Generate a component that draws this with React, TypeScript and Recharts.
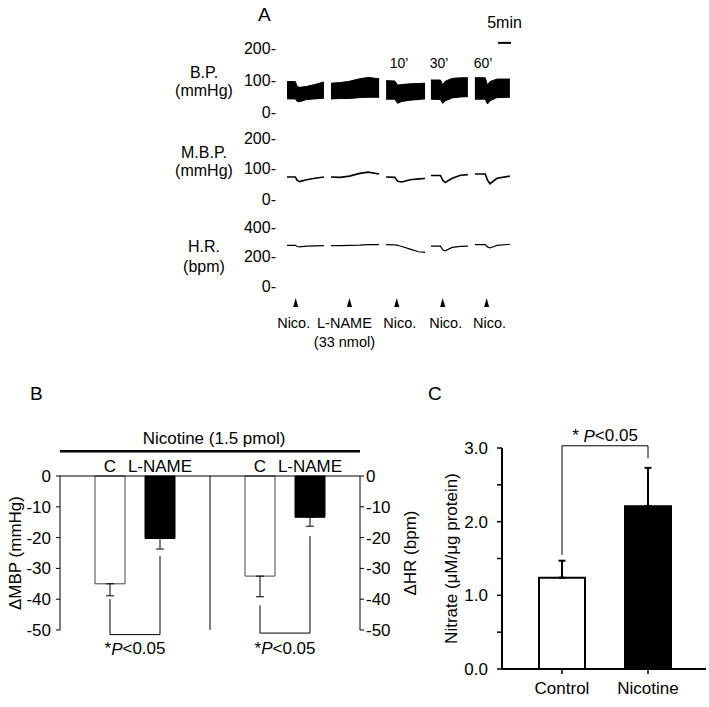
import {
  ComposedChart,
  Area,
  Line,
  XAxis,
  YAxis,
  ReferenceLine,
  ReferenceDot,
  BarChart,
  Bar,
  Cell,
  ErrorBar,
} from 'recharts'

const FONT = '"Liberation Sans", Arial, Helvetica, sans-serif'
const FS_A = 16 // panel A text
const FS = 17 // panels B and C

// ---------- Panel A: recordings (t = minutes from start of trace) ----------
const segTimes = [
  [0, 3, 3.6, 4.5, 7, 10, 13.2],
  [15.7, 19, 22.3, 26, 29, 32.9],
  [35.4, 38.5, 39.5, 41, 44, 47, 49.3],
  [51.4, 54.8, 55.6, 56.5, 59, 62, 64.6],
  [67.1, 70.8, 71.6, 72.5, 75, 79.6],
]
const bpHigh = [
  [95, 95, 80, 77, 80, 86, 94],
  [90, 92, 96, 104, 108, 104],
  [98, 97, 84, 86, 88, 89, 90],
  [100, 100, 85, 96, 105, 107, 107],
  [107, 107, 84, 95, 103, 103],
]
const bpLow = [
  [41, 41, 33, 32, 39, 41, 43],
  [41, 42, 42, 45, 46, 46],
  [40, 40, 27, 33, 37, 39, 41],
  [40, 39, 27, 35, 44, 47, 48],
  [40, 40, 25, 35, 45, 46],
]
const mbpTrace = [
  [72, 72, 62, 57, 63, 68, 72],
  [72, 71, 75, 84, 88, 82],
  [72, 71, 58, 56, 63, 66, 67],
  [77, 77, 62, 54, 68, 78, 80],
  [82, 82, 62, 50, 68, 75],
]
const hrTrace = [
  [276, 276, 268, 265, 270, 272, 274],
  [274, 274, 275, 277, 280, 281],
  [281, 279, 276, 268, 250, 232, 228],
  [270, 270, 245, 238, 262, 268, 270],
  [281, 281, 265, 258, 275, 283],
]

const injectionTimes = [3.1, 22.3, 39.2, 55.6, 71.3]
const injectionLabels = ['Nico.', 'L-NAME', 'Nico.', 'Nico.', 'Nico.']
const injectionNotes = ['', '(33 nmol)', '', '', '']

const minuteMarks = [
  { t: 40, text: '10\u2019' },
  { t: 54.3, text: '30\u2019' },
  { t: 70, text: '60\u2019' },
]

// one row per reading, with an empty row between the separate records
const traceRows = segTimes.flatMap((times, s) => {
  const rows: any[] = times.map((t, i) => ({
    t,
    bp: [bpLow[s][i], bpHigh[s][i]],
    mbp: mbpTrace[s][i],
    hr: hrTrace[s][i],
  }))
  const next = segTimes[s + 1]
  if (next) rows.push({ t: (times[times.length - 1] + next[0]) / 2, bp: null, mbp: null, hr: null })
  return rows
})

// ---------- Panel B: change in MBP / HR ----------
const bKeys = ['mbpC', 'mbpL', 'gap', 'hrC', 'hrL']
const bLabels = ['C', 'L-NAME', '', 'C', 'L-NAME']
const dMbp = [-35, -20.3, null, null, null]
const dMbpSem = [3.9, 3.4, null, null, null]
const dHr = [null, null, null, -32.5, -13.4]
const dHrSem = [null, null, null, 6.7, 2.9]
const bTicks = [-50, -40, -30, -20, -10, 0]

// ---------- Panel C: nitrate ----------
const nitrateGroups = ['Control', 'Nicotine']
const nitrateMean = [1.24, 2.21]
const nitrateSem = [0.23, 0.52]
const nitrateTicks = [0, 0.5, 1, 1.5, 2, 2.5, 3]

const bRows = bKeys.map((key, i) => ({
  key,
  mbp: dMbp[i],
  mbpErr: dMbpSem[i] == null ? null : [dMbpSem[i], 0],
  hr: dHr[i],
  hrErr: dHrSem[i] == null ? null : [dHrSem[i], 0],
}))

const cRows = nitrateGroups.map((g, i) => ({
  group: g,
  nitrate: nitrateMean[i],
  nitrateErr: [0, nitrateSem[i]],
}))

const txtA = { fontSize: FS_A, fill: '#000', fontFamily: FONT }
const txt = { fontSize: FS, fill: '#000', fontFamily: FONT }

function DashTick({ x, y, payload }: any) {
  return (
    <text x={x} y={y} textAnchor="end" dominantBaseline="central" {...txtA}>
      {payload.value}-
    </text>
  )
}

function SideLabel({ viewBox, lines, dy }: any) {
  const cx = viewBox.x + 34
  const cy = viewBox.y + viewBox.height / 2
  return (
    <g>
      {lines.map((l: string, i: number) => (
        <text key={i} x={cx} y={cy + dy[i]} textAnchor="middle" dominantBaseline="central" {...txtA}>
          {l}
        </text>
      ))}
    </g>
  )
}

function traceAxis(ticks: number[], lines: string[], dy: number[]) {
  return (
    <YAxis
      type="number"
      domain={[ticks[0], ticks[ticks.length - 1]]}
      ticks={ticks}
      interval={0}
      width={117}
      axisLine={false}
      tickLine={false}
      tickSize={0}
      tickMargin={11}
      tick={<DashTick />}
      label={{ content: (p: any) => <SideLabel viewBox={p.viewBox} lines={lines} dy={dy} /> }}
    />
  )
}

// labels under the arrows are not exactly centred in the original
const labelNudge = [-2, -5, 3, 3, 3]

function InjectionTick({ x, y, index }: any) {
  const lx = x + labelNudge[index]
  return (
    <g>
      <path d={`M${x},${y + 12} L${x + 2.5},${y + 21} L${x - 2.5},${y + 21} Z`} fill="#000" />
      <text x={lx} y={y + 37} textAnchor="middle" dominantBaseline="central" {...txtA} fontSize={14.5}>
        {injectionLabels[index]}
      </text>
      {injectionNotes[index] && (
        <text x={lx} y={y + 56} textAnchor="middle" dominantBaseline="central" {...txtA} fontSize={14.5}>
          {injectionNotes[index]}
        </text>
      )}
    </g>
  )
}

function RotLabel({ viewBox, text, dx }: any) {
  const x = viewBox.x + dx
  const y = viewBox.y + viewBox.height / 2
  return (
    <text x={x} y={y} transform={`rotate(-90 ${x} ${y})`} textAnchor="middle" dominantBaseline="central" {...txt}>
      {text}
    </text>
  )
}

function PText({ x, y, gap }: any) {
  return (
    <text x={x} y={y} textAnchor="middle" dominantBaseline="central" {...txt}>
      *{gap ? ' ' : ''}
      <tspan fontStyle="italic">P</tspan>
      {'<0.05'}
    </text>
  )
}

function BTopTick({ x, y, index }: any) {
  return (
    <text x={x} y={y} textAnchor="middle" dominantBaseline="central" {...txt}>
      {bLabels[index]}
    </text>
  )
}

function CBottomTick({ x, y, payload }: any) {
  return (
    <text x={x} y={y + 12} textAnchor="middle" dominantBaseline="central" {...txt}>
      {payload.value}
    </text>
  )
}

function Letter({ x, y, children }: any) {
  return (
    <div style={{ position: 'absolute', left: x, top: y, fontSize: 19, lineHeight: '20px' }}>{children}</div>
  )
}

// bracket helper: three segments on a band axis
function bracket(from: string, to: string, fromY: number, toY: number, baseY: number, ids: any, labelFn: any) {
  return [
    <ReferenceLine key="a" {...ids} segment={[{ x: from, y: fromY }, { x: from, y: baseY }]} stroke="#000" ifOverflow="visible" />,
    <ReferenceLine
      key="b"
      {...ids}
      segment={[{ x: from, y: baseY }, { x: to, y: baseY }]}
      stroke="#000"
      ifOverflow="visible"
      label={{ content: labelFn }}
    />,
    <ReferenceLine key="c" {...ids} segment={[{ x: to, y: baseY }, { x: to, y: toY }]} stroke="#000" ifOverflow="visible" />,
  ]
}

export default function App() {
  return (
    <div
      style={{
        position: 'absolute',
        left: 0,
        top: 0,
        width: 709,
        height: 707,
        background: '#fff',
        fontFamily: FONT,
        overflow: 'hidden',
      }}
    >
      <Letter x={258} y={5}>A</Letter>
      <Letter x={30} y={384}>B</Letter>
      <Letter x={428} y={384}>C</Letter>

      {/* B.P. */}
      <div style={{ position: 'absolute', left: 170, top: 5 }}>
        <ComposedChart width={360} height={125} data={traceRows} margin={{ top: 43, right: 19, bottom: 18, left: 0 }}>
          <XAxis dataKey="t" type="number" domain={[0, 80]} hide />
          {traceAxis([0, 100, 200], ['B.P.', '(mmHg)'], [-8, 10])}
          <Area
            dataKey="bp"
            type="linear"
            stroke="#000"
            strokeWidth={1}
            fill="#000"
            fillOpacity={1}
            dot={false}
            activeDot={false}
            isAnimationActive={false}
          />
          {minuteMarks.map((m) => (
            <ReferenceDot
              key={m.text}
              x={m.t}
              y={153}
              r={0}
              stroke="none"
              fill="none"
              label={{ value: m.text, position: 'center', fontSize: 14, fill: '#000' }}
            />
          ))}
          <ReferenceLine
            segment={[{ x: 75.4, y: 216 }, { x: 80, y: 216 }]}
            stroke="#000"
            strokeWidth={2}
            ifOverflow="visible"
            label={{
              content: (p: any) => (
                <text
                  x={p.viewBox.x + p.viewBox.width / 2}
                  y={p.viewBox.y - 20}
                  textAnchor="middle"
                  dominantBaseline="central"
                  {...txtA}
                >
                  5min
                </text>
              ),
            }}
          />
        </ComposedChart>
      </div>

      {/* M.B.P. */}
      <div style={{ position: 'absolute', left: 170, top: 125 }}>
        <ComposedChart width={360} height={90} data={traceRows} margin={{ top: 13, right: 19, bottom: 16, left: 0 }}>
          <XAxis dataKey="t" type="number" domain={[0, 80]} hide />
          {traceAxis([0, 100, 200], ['M.B.P.', '(mmHg)'], [-16.5, 1.5])}
          <Line dataKey="mbp" type="linear" stroke="#000" strokeWidth={1.6} dot={false} activeDot={false} isAnimationActive={false} />
        </ComposedChart>
      </div>

      {/* H.R. */}
      <div style={{ position: 'absolute', left: 170, top: 210 }}>
        <ComposedChart width={360} height={150} data={traceRows} margin={{ top: 17, right: 19, bottom: 14, left: 0 }}>
          <XAxis
            dataKey="t"
            type="number"
            domain={[0, 80]}
            ticks={injectionTimes}
            interval={0}
            height={60}
            axisLine={false}
            tickLine={false}
            tickSize={0}
            tickMargin={0}
            tick={<InjectionTick />}
          />
          {traceAxis([0, 200, 400], ['H.R.', '(bpm)'], [-10.5, 9.5])}
          <Line dataKey="hr" type="linear" stroke="#000" strokeWidth={1.2} dot={false} activeDot={false} isAnimationActive={false} />
        </ComposedChart>
      </div>

      {/* Panel B */}
      <div style={{ position: 'absolute', left: 0, top: 380 }}>
        <BarChart width={430} height={300} data={bRows} margin={{ top: 71, right: 10, bottom: 50, left: 0 }}>
          <XAxis
            xAxisId="a"
            dataKey="key"
            orientation="top"
            padding={{ left: 25, right: 25 }}
            height={25}
            interval={0}
            tickLine={false}
            tickSize={0}
            tickMargin={10}
            axisLine={{ stroke: '#000' }}
            tick={<BTopTick />}
          />
          <XAxis xAxisId="b" dataKey="key" padding={{ left: 25, right: 25 }} hide />
          <YAxis
            yAxisId="left"
            domain={[-50, 0]}
            ticks={bTicks}
            interval={0}
            width={60}
            tickSize={4}
            tickMargin={5}
            axisLine={{ stroke: '#000' }}
            tickLine={{ stroke: '#000' }}
            tick={txt}
            label={{ content: (p: any) => <RotLabel viewBox={p.viewBox} text="ΔMBP (mmHg)" dx={15} /> }}
          />
          <YAxis
            yAxisId="right"
            orientation="right"
            domain={[-50, 0]}
            ticks={bTicks}
            interval={0}
            width={60}
            tickSize={4}
            tickMargin={2}
            axisLine={{ stroke: '#000' }}
            tickLine={{ stroke: '#000' }}
            tick={txt}
            label={{ content: (p: any) => <RotLabel viewBox={p.viewBox} text="ΔHR (bpm)" dx={50} /> }}
          />
          <ReferenceLine
            xAxisId="a"
            yAxisId="left"
            y={8}
            stroke="#000"
            strokeWidth={2.5}
            ifOverflow="visible"
            label={{
              content: (p: any) => (
                <text
                  x={p.viewBox.x + p.viewBox.width / 2 + 4}
                  y={p.viewBox.y - 13}
                  textAnchor="middle"
                  dominantBaseline="central"
                  {...txt}
                >
                  Nicotine (1.5 pmol)
                </text>
              ),
            }}
          />
          <ReferenceLine xAxisId="a" yAxisId="left" x="gap" stroke="#000" />
          <Bar xAxisId="a" yAxisId="left" dataKey="mbp" barSize={30} isAnimationActive={false}>
            {bRows.map((r, i) => (
              <Cell key={r.key} fill={i % 2 === 0 ? '#fff' : '#000'} stroke={i % 2 === 0 ? '#444' : '#000'} />
            ))}
            <ErrorBar dataKey="mbpErr" direction="y" width={4} stroke="#000" strokeWidth={1} />
          </Bar>
          <Bar xAxisId="b" yAxisId="right" dataKey="hr" barSize={30} isAnimationActive={false}>
            {bRows.map((r, i) => (
              <Cell key={r.key} fill={i === 3 ? '#fff' : '#000'} stroke={i === 3 ? '#444' : '#000'} />
            ))}
            <ErrorBar dataKey="hrErr" direction="y" width={4} stroke="#000" strokeWidth={1} />
          </Bar>
          {bracket('mbpC', 'mbpL', -40, -26, -51.5, { xAxisId: 'a', yAxisId: 'left' }, (p: any) => (
            <PText x={p.viewBox.x + p.viewBox.width / 2} y={p.viewBox.y + 14} />
          ))}
          {bracket('hrC', 'hrL', -42, -19.5, -51, { xAxisId: 'a', yAxisId: 'right' }, (p: any) => (
            <PText x={p.viewBox.x + p.viewBox.width / 2} y={p.viewBox.y + 15} />
          ))}
        </BarChart>
      </div>

      {/* Panel C */}
      <div style={{ position: 'absolute', left: 420, top: 420 }}>
        <BarChart width={289} height={287} data={cRows} margin={{ top: 28, right: 3, bottom: 8, left: 0 }}>
          <XAxis
            dataKey="group"
            padding={{ left: 17, right: 15 }}
            height={30}
            interval={0}
            tickSize={5}
            tickMargin={2}
            axisLine={{ stroke: '#000', strokeWidth: 2 }}
            tickLine={{ stroke: '#000', strokeWidth: 1.5 }}
            tick={<CBottomTick />}
          />
          <YAxis
            domain={[0, 3]}
            ticks={nitrateTicks}
            interval={0}
            width={82}
            tickSize={5}
            tickMargin={9}
            axisLine={{ stroke: '#000', strokeWidth: 2 }}
            tickLine={{ stroke: '#000', strokeWidth: 1.5 }}
            tick={txt}
            tickFormatter={(v: number) => (v % 1 === 0 ? v.toFixed(1) : '')}
            label={{ content: (p: any) => <RotLabel viewBox={p.viewBox} text="Nitrate (μM/μg protein)" dx={31} /> }}
          />
          <Bar dataKey="nitrate" barSize={46} isAnimationActive={false}>
            {cRows.map((r, i) => (
              <Cell key={r.group} fill={i === 0 ? '#fff' : '#000'} stroke="#000" strokeWidth={2} />
            ))}
            <ErrorBar dataKey="nitrateErr" direction="y" width={3.5} stroke="#000" strokeWidth={2} />
          </Bar>
          {bracket('Control', 'Nicotine', 1.55, 2.86, 3.03, {}, (p: any) => (
            <PText x={p.viewBox.x + p.viewBox.width / 2} y={p.viewBox.y - 10} gap />
          ))}
        </BarChart>
      </div>
    </div>
  )
}
